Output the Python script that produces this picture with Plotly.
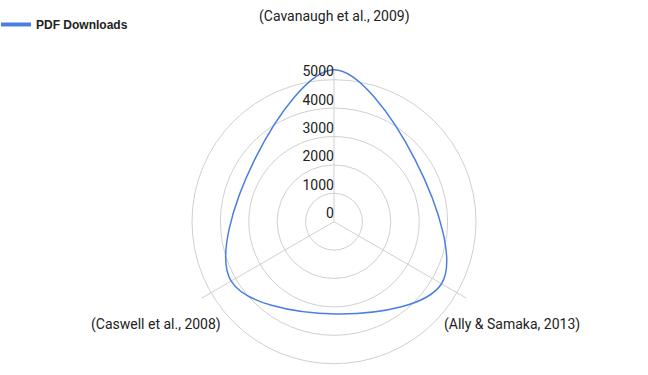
import math
import plotly.graph_objects as go

categories = ["(Cavanaugh et al., 2009)", "(Ally & Samaka, 2013)", "(Caswell et al., 2008)"]
pdf_downloads = [5350, 4370, 4180]
radial_ticks = [0, 1000, 2000, 3000, 4000, 5000]
radial_tick_labels = ["0", "1000", "2000", "3000", "4000", "5000"]
series_name = "PDF Downloads"

W, H = 648, 375
cx, cy = 334, 221.7
r_max = 5380
px_per_unit = 142 / 5000
R = r_max * px_per_unit
label_radius = 205

def clamp(v):
    return min(1.0, max(0.0, v))

fig = go.Figure()
fig.add_trace(go.Scatterpolar(
    r=pdf_downloads + pdf_downloads[:1],
    theta=categories + categories[:1],
    mode="lines",
    name=series_name,
    line=dict(color="#4a7fe0", width=1.5, shape="spline", smoothing=1.3),
    showlegend=False,
))
# radial tick labels, drawn beside the top spoke
fig.add_trace(go.Scatterpolar(
    r=radial_ticks,
    theta=[categories[0]] * len(radial_ticks),
    mode="text",
    text=radial_tick_labels,
    textposition="top left",
    textfont=dict(family="Roboto", size=14, color="#222222"),
    cliponaxis=False,
    showlegend=False,
    hoverinfo="skip",
))
# legend-only entry with the thick swatch
fig.add_trace(go.Scatterpolar(
    r=[None], theta=[None], mode="lines", name=series_name,
    line=dict(color="#4a7fe0", width=4), showlegend=True,
))

annotations = []
for i, cat in enumerate(categories):
    a = math.radians(90 - i * 360 / len(categories))
    annotations.append(dict(
        text=cat, showarrow=False, xref="paper", yref="paper",
        x=(cx + label_radius * math.cos(a)) / W,
        y=1 - (cy - label_radius * math.sin(a)) / H,
        xanchor="center", yanchor="middle",
        font=dict(family="Roboto", size=14, color="#222222"),
    ))

fig.update_layout(
    width=W, height=H,
    margin=dict(l=0, r=0, t=0, b=0, autoexpand=False),
    paper_bgcolor="white",
    font=dict(family="Roboto", color="#222222", size=14),
    showlegend=True,
    legend=dict(x=-4 / W, y=1 - 10 / H, xanchor="left", yanchor="top",
                font=dict(size=12, family="Arial", color="#222222", weight="bold"),
                itemwidth=30, bgcolor="rgba(0,0,0,0)"),
    annotations=annotations,
    polar=dict(
        domain=dict(x=[clamp((cx - R) / W), clamp((cx + R) / W)],
                    y=[clamp(1 - (cy + R) / H), clamp(1 - (cy - R) / H)]),
        bgcolor="white",
        radialaxis=dict(
            range=[0, r_max], tickvals=radial_ticks, angle=90,
            showline=False, gridcolor="#d0d0d0", gridwidth=1,
            showticklabels=False, ticks="",
        ),
        angularaxis=dict(
            rotation=90, direction="clockwise", showline=False,
            gridcolor="#d0d0d0", gridwidth=1, ticks="", showticklabels=False,
        ),
    ),
)

fig.write_html("out.html", config={"displayModeBar": False},
               post_script="document.body.style.margin='0';")
